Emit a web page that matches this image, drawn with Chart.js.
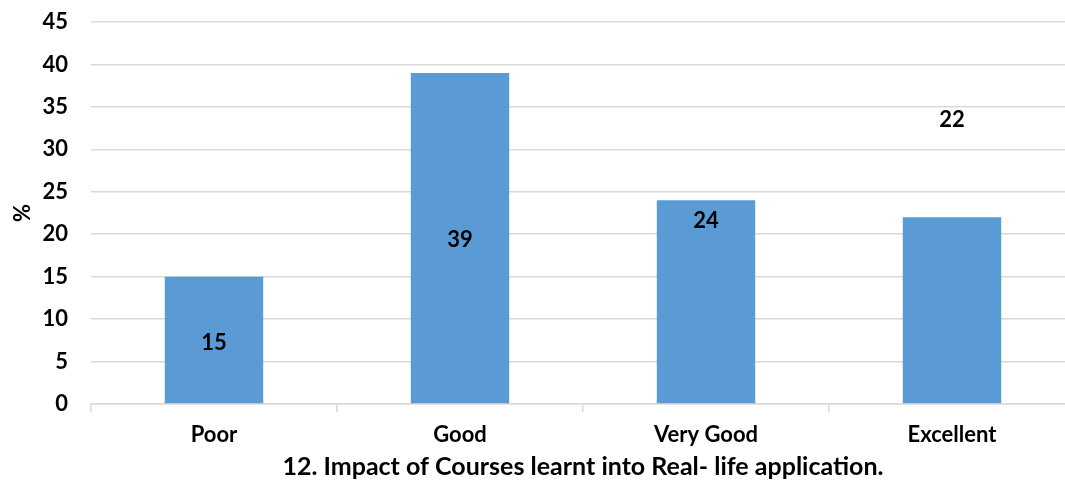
<!DOCTYPE html>
<html>
<head>
<meta charset="utf-8">
<script src="https://cdn.jsdelivr.net/npm/chart.js@4.4.1/dist/chart.umd.min.js"></script>
<style>
  body { margin: 0; background: #fff; overflow: hidden; }
  #wrap { width: 1090px; height: 488px; }
</style>
</head>
<body>
<div id="wrap"><canvas id="impactChart"></canvas></div>
<script>
    // Chart data
    const categories = ['Poor', 'Good', 'Very Good', 'Excellent'];
    const percentValues = [15, 39, 24, 22];
    // where each value label sits, in axis units (as in the original picture)
    const labelAt = [7.2, 19.3, 21.6, 33.5];
    const yTicks = [0, 5, 10, 15, 20, 25, 30, 35, 40, 45];

    const fontFamily = 'Lato, "Open Sans", sans-serif';

    // Draw the value labels at their own heights
    const valueLabels = {
        id: 'valueLabels',
        afterDatasetsDraw(chart) {
            const ctx = chart.ctx;
            const meta = chart.getDatasetMeta(0);
            const yScale = chart.scales.y;
            ctx.save();
            ctx.font = 'bold 22px ' + fontFamily;
            ctx.fillStyle = '#000';
            ctx.textAlign = 'center';
            ctx.textBaseline = 'middle';
            meta.data.forEach((bar, i) => {
                ctx.fillText(String(percentValues[i]), bar.x, yScale.getPixelForValue(labelAt[i]));
            });
            ctx.restore();
        }
    };

    var ctx = document.getElementById('impactChart').getContext('2d');
    new Chart(ctx, {
        type: 'bar',
        data: {
            labels: categories,
            datasets: [{
                data: percentValues,
                backgroundColor: '#5b9bd5',
                categoryPercentage: 1,
                barPercentage: 0.4
            }]
        },
        options: {
            responsive: true,
            maintainAspectRatio: false,
            animation: false,
            layout: { padding: { top: 22, right: 15, bottom: 8.5, left: 0 } },
            plugins: {
                legend: { display: false },
                tooltip: { enabled: false }
            },
            scales: {
                x: {
                    offset: true,
                    grid: {
                        offset: true,
                        drawOnChartArea: false,
                        drawTicks: true,
                        tickLength: 8,
                        color: '#d9d9d9',
                        lineWidth: 1.5
                    },
                    border: { display: true, color: '#d9d9d9', width: 1.5 },
                    ticks: {
                        color: '#000',
                        padding: 12,
                        font: { family: fontFamily, size: 22, weight: 'bold', lineHeight: 1 }
                    },
                    title: {
                        display: true,
                        text: '12. Impact of Courses learnt into Real- life application.',
                        color: '#000',
                        padding: { top: -3.5, bottom: 0 },
                        font: { family: fontFamily, size: 25, weight: 'bold', lineHeight: 1 }
                    }
                },
                y: {
                    min: 0,
                    max: 45,
                    afterBuildTicks(scale) {
                        scale.ticks = yTicks.map(v => ({ value: v }));
                    },
                    afterFit(scale) {
                        scale.width = 91;
                    },
                    grid: {
                        color: '#d9d9d9',
                        lineWidth: 1.5,
                        drawTicks: true,
                        tickLength: 23,
                        tickColor: 'rgba(0,0,0,0)'
                    },
                    border: { display: false },
                    ticks: {
                        color: '#000',
                        padding: 0,
                        font: { family: fontFamily, size: 22, weight: 'bold' }
                    },
                    title: {
                        display: true,
                        text: '%',
                        color: '#000',
                        padding: { top: 10, bottom: 0 },
                        font: { family: fontFamily, size: 22, weight: 'bold' }
                    }
                }
            }
        },
        plugins: [valueLabels]
    });
</script>
</body>
</html>
